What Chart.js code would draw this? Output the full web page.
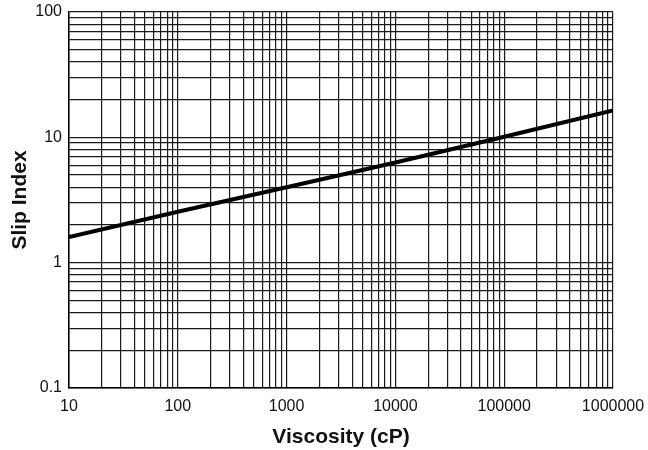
<!DOCTYPE html>
<html lang="en">
<head>
    <meta charset="UTF-8">
    <title>Slip Index vs Viscosity</title>
    <script src="https://cdn.jsdelivr.net/npm/chart.js"></script>
    <style>
        html, body { margin: 0; padding: 0; background: #fff; }
        #wrap { width: 648px; height: 450px; position: relative; }
    </style>
</head>
<body>
    <div id="wrap"><canvas id="chart"></canvas></div>
    <script>
        // values
        const viscosity = [10, 100, 1000, 10000, 100000, 1000000];
        const slipIndex = [1.6, 2.55, 4.0, 6.3, 10.1, 16.4];

        // labelled decades on each axis
        const xTickLabels = ['10', '100', '1000', '10000', '100000', '1000000'];
        const yTickLabels = ['0.1', '1', '10', '100'];

        // grid lines at 1..9 of every decade
        function decadeTicks(min, max) {
            const out = [];
            for (let e = Math.round(Math.log10(min)); e < Math.round(Math.log10(max)); e++) {
                for (let m = 1; m < 10; m++) out.push({ value: m * Math.pow(10, e) });
            }
            out.push({ value: max });
            return out;
        }

        function labelFor(v, labels) {
            const l = Math.log10(v);
            if (Math.abs(l - Math.round(l)) > 1e-9) return '';
            return labels.find(s => Math.abs(Math.log10(parseFloat(s)) - l) < 1e-9) || '';
        }

        const gridStyle = { color: '#1a1a1a', lineWidth: 1.2, drawTicks: false };
        const font = 'Liberation Sans, Arial, sans-serif';

        new Chart(document.getElementById('chart'), {
            type: 'line',
            data: {
                datasets: [{
                    data: viscosity.map((x, i) => ({ x: x, y: slipIndex[i] })),
                    borderColor: '#000',
                    borderWidth: 4,
                    pointRadius: 0,
                    tension: 0
                }]
            },
            options: {
                responsive: true,
                maintainAspectRatio: false,
                animation: false,
                layout: { padding: { top: 12, right: 35, left: 0, bottom: 0 } },
                plugins: { legend: { display: false }, tooltip: { enabled: false } },
                scales: {
                    x: {
                        type: 'logarithmic',
                        min: 10,
                        max: 1000000,
                        afterBuildTicks: s => { s.ticks = decadeTicks(10, 1000000); },
                        // fixed box so the plot area lands where the reference has it
                        afterFit: s => { s.height = 62; s.paddingLeft = 0; s.paddingRight = 0; },
                        grid: gridStyle,
                        border: { color: '#000', width: 1.5 },
                        ticks: {
                            autoSkip: false,
                            maxRotation: 0,
                            padding: 9,
                            color: '#111',
                            font: { family: font, size: 16 },
                            callback: v => labelFor(v, xTickLabels)
                        },
                        title: {
                            display: true,
                            text: 'Viscosity (cP)',
                            color: '#111',
                            padding: { top: 0, bottom: 0 },
                            font: { family: font, size: 21, weight: 'bold' }
                        }
                    },
                    y: {
                        type: 'logarithmic',
                        min: 0.1,
                        max: 100,
                        afterBuildTicks: s => { s.ticks = decadeTicks(0.1, 100); },
                        afterFit: s => { s.width = 69; s.paddingTop = 0; s.paddingBottom = 0; },
                        grid: gridStyle,
                        border: { color: '#000', width: 1.5 },
                        ticks: {
                            autoSkip: false,
                            padding: 7,
                            color: '#111',
                            font: { family: font, size: 16 },
                            callback: v => labelFor(v, yTickLabels)
                        },
                        title: {
                            display: true,
                            text: 'Slip Index',
                            color: '#111',
                            padding: { top: 8, bottom: 0 },
                            font: { family: font, size: 21, weight: 'bold' }
                        }
                    }
                }
            }
        });
    </script>
</body>
</html>
